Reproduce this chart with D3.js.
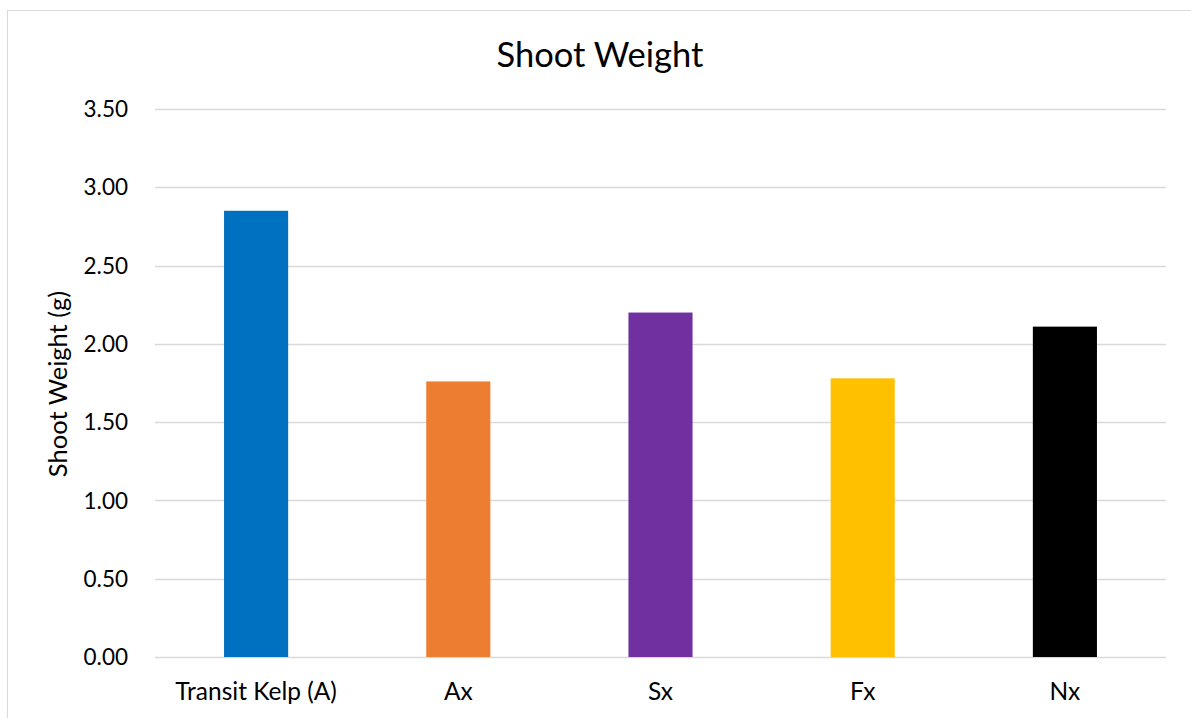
<!DOCTYPE html>
<html>
<head>
<meta charset="utf-8">
<script src="https://cdn.jsdelivr.net/npm/d3@7"></script>
<style>
  body { margin: 0; background: #fff; }
  svg text { font-family: Lato, "Open Sans", sans-serif; fill: #000; }
</style>
</head>
<body>
<div id="chart"></div>
<script>
// Shoot weight per treatment.
var categories = ["Transit Kelp (A)", "Ax", "Sx", "Fx", "Nx"];
var weights = [2.85, 1.76, 2.20, 1.78, 2.11];
var barColors = ["#0070C0", "#ED7D31", "#7030A0", "#FFC000", "#000000"];
var yTicks = [0, 0.5, 1, 1.5, 2, 2.5, 3, 3.5];

var width = 1191, height = 718;
var margin = {top: 109, right: 25, bottom: 61, left: 155};

var svg = d3.select("#chart").append("svg")
  .attr("width", width)
  .attr("height", height);

// chart frame
svg.append("rect")
  .attr("x", 7.5).attr("y", 10.5)
  .attr("width", 1190).attr("height", 720)
  .attr("fill", "none")
  .attr("stroke", "#d9d9d9");

var x = d3.scaleBand()
  .domain(categories)
  .range([margin.left, width - margin.right])
  .paddingInner(0.683)
  .paddingOuter(0.3415);

var y = d3.scaleLinear()
  .domain([0, 3.5])
  .range([height - margin.bottom, margin.top]);

// gridlines
svg.append("g")
  .selectAll("line")
  .data(yTicks)
  .enter()
  .append("line")
  .attr("x1", margin.left)
  .attr("x2", width - margin.right)
  .attr("y1", function(d) { return Math.round(y(d)) + 0.5; })
  .attr("y2", function(d) { return Math.round(y(d)) + 0.5; })
  .attr("stroke", "#d9d9d9")
  .attr("stroke-width", 1.3);

// y tick labels
svg.append("g")
  .selectAll("text")
  .data(yTicks)
  .enter()
  .append("text")
  .attr("x", 128)
  .attr("y", function(d) { return y(d); })
  .attr("dy", "0.36em")
  .attr("text-anchor", "end")
  .style("font-size", "22.5px")
  .text(function(d) { return d3.format(".2f")(d); });

// bars
svg.append("g")
  .selectAll("rect")
  .data(weights)
  .enter()
  .append("rect")
  .attr("x", function(d, i) { return x(categories[i]); })
  .attr("width", x.bandwidth())
  .attr("y", function(d) { return y(d); })
  .attr("height", function(d) { return y(0) - y(d); })
  .attr("fill", function(d, i) { return barColors[i]; });

// category labels
svg.append("g")
  .selectAll("text")
  .data(categories)
  .enter()
  .append("text")
  .attr("x", function(d) { return x(d) + x.bandwidth() / 2; })
  .attr("y", 700)
  .attr("text-anchor", "middle")
  .style("font-size", "24.5px")
  .text(function(d) { return d; });

// title
svg.append("text")
  .attr("x", 600)
  .attr("y", 67)
  .attr("text-anchor", "middle")
  .style("font-size", "34.5px")
  .text("Shoot Weight");

// y axis title
svg.append("text")
  .attr("transform", "translate(67,384) rotate(-90)")
  .attr("text-anchor", "middle")
  .style("font-size", "25.5px")
  .text("Shoot Weight (g)");
</script>
</body>
</html>
